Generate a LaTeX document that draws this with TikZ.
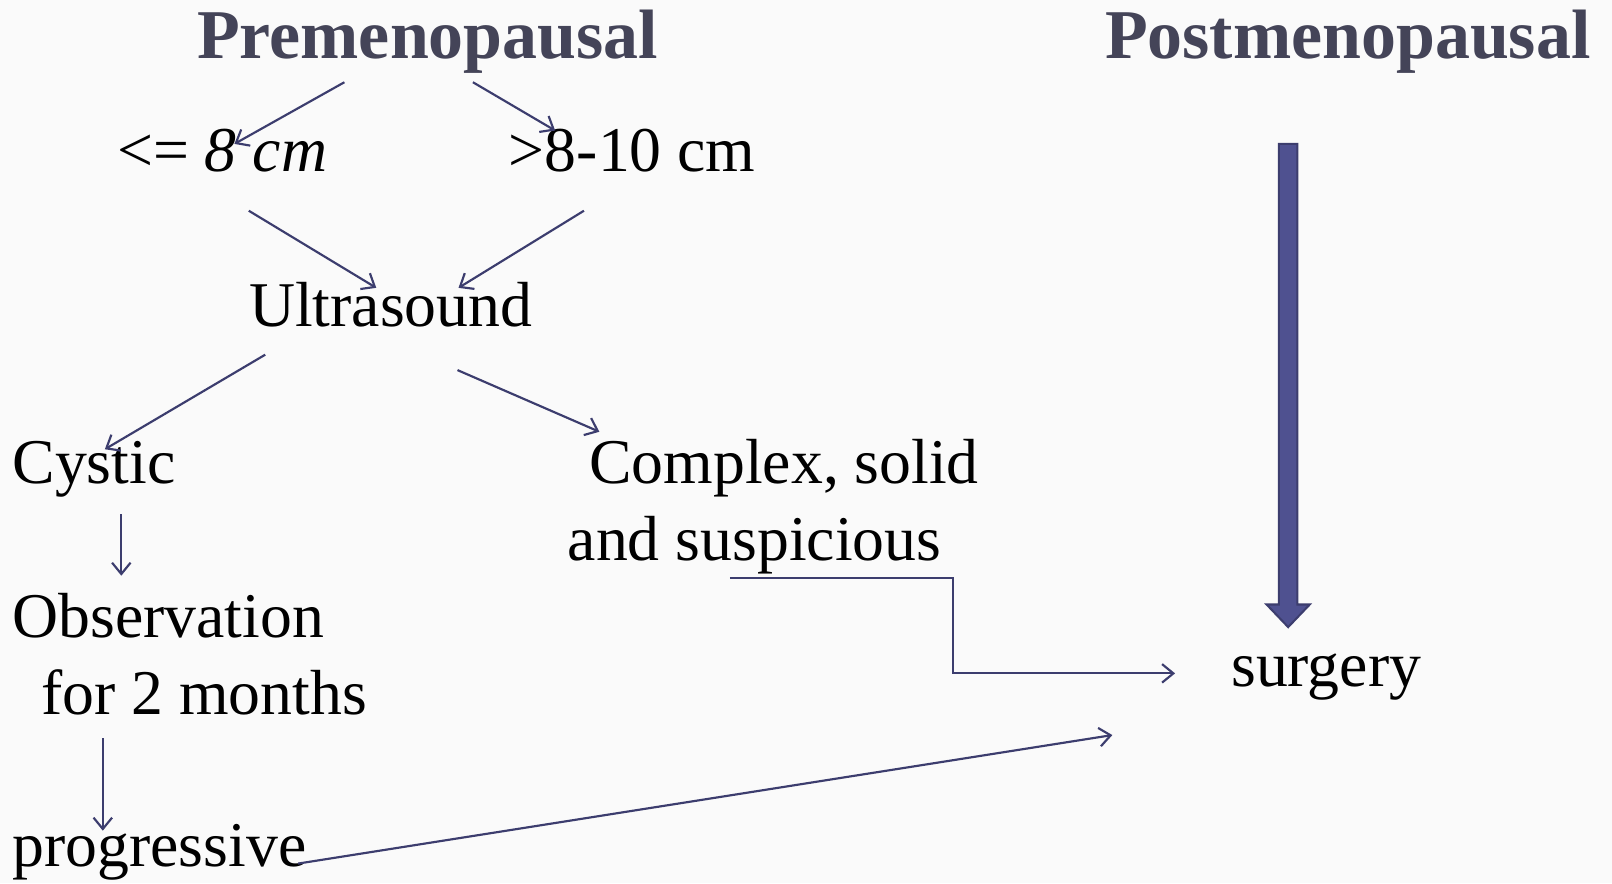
\documentclass[tikz,border=0pt]{standalone}
\usepackage{fontspec}
\setmainfont{Liberation Serif}
\usepackage{tikz}
\usetikzlibrary{arrows.meta,calc}
\definecolor{SlideTitle}{HTML}{444458}
\definecolor{SlideLine}{HTML}{3C3D6E}
\definecolor{SlideFill}{HTML}{4F5190}
\definecolor{SlideBack}{HTML}{FAFAFA}

\begin{document}
\begin{tikzpicture}[
    x=1pt,y=1pt,
    title/.style={font=\bfseries\fontsize{68}{72}\selectfont,text=SlideTitle,
      inner sep=0pt,anchor=base},
    txt/.style={font=\fontsize{62}{75}\selectfont,inner sep=0pt,anchor=base},
    txtl/.style={txt,anchor=base west,align=left},
    arr/.style={-{Straight Barb[length=11pt,width=18pt]},line width=2.1pt,draw=SlideLine}
  ]
    \fill[SlideBack] (0,0) rectangle (1568,859);
    \useasboundingbox (0,0) rectangle (1568,859);
    % headings
    \node[title] (pre) at (416,802) {Premenopausal};
    \node[title] (post) at (1311,802) {Postmenopausal};
    % premenopausal branch
    \node[txt] (le8) at (216,692) {<= \textit{8 cm}};
    \node[txt] (gt8) at (615,692) {>8-10 cm};
    \node[txt] (us) at (380,541) {Ultrasound};
    \node[txtl] (cyst) at (12,389) {Cystic};
    \node[txtl] (cplx) at (552,314) {\hspace*{21pt}Complex, solid\\and suspicious};
    \node[txtl] (obs) at (12,164) {Observation\\\hspace*{28pt}for 2 months};
    \node[txtl] (prog) at (12,16) {progressive};
    \node[txt] (surg) at (1290,191) {surgery};
    % connectors
    \draw[arr] ($(pre.base)+(-81,-23)$) -- ($(le8.base)+(12,27)$);
    \draw[arr] ($(pre.base)+(44,-23)$) -- ($(gt8.base)+(-75,40)$);
    \draw[arr] ($(le8.base)+(26,-38)$) -- ($(us.base)+(-14,38)$);
    \draw[arr] ($(gt8.base)+(-47,-38)$) -- ($(us.base)+(66,38)$);
    \draw[arr] ($(us.base)+(-122,-27)$) -- ($(cyst.base west)+(90,33)$);
    \draw[arr] ($(us.base)+(65,-42)$) -- ($(cplx.base west)+(31,125)$);
    \draw[arr] ($(cyst.base west)+(106,-30)$) -- ($(obs.base west)+(106,135)$);
    \draw[arr] ($(obs.base west)+(88,-23)$) -- ($(prog.base west)+(88,35)$);
    \draw[arr] ($(prog.base west)+(278,3)$) -- ($(surg.base)+(-208,-47)$);
    \draw[arr] ($(cplx.base west)+(158,-17)$) -- ++(217,0) |- ($(surg.base)+(-147,13)$);
    % thick arrow for postmenopausal
    \coordinate (bt) at ($(post.base)+(-58,-83)$);
    \coordinate (bb) at ($(surg.base)+(-37,58)$);
    \filldraw[fill=SlideFill,draw=SlideLine,line width=2pt,line join=miter]
      ($(bt)+(-9,0)$) -- ($(bt)+(9,0)$) -- ($(bb)+(9,22)$) -- ($(bb)+(21,22)$)
      -- (bb) -- ($(bb)+(-21,22)$) -- ($(bb)+(-9,22)$) -- cycle;
\end{tikzpicture}
\end{document}
